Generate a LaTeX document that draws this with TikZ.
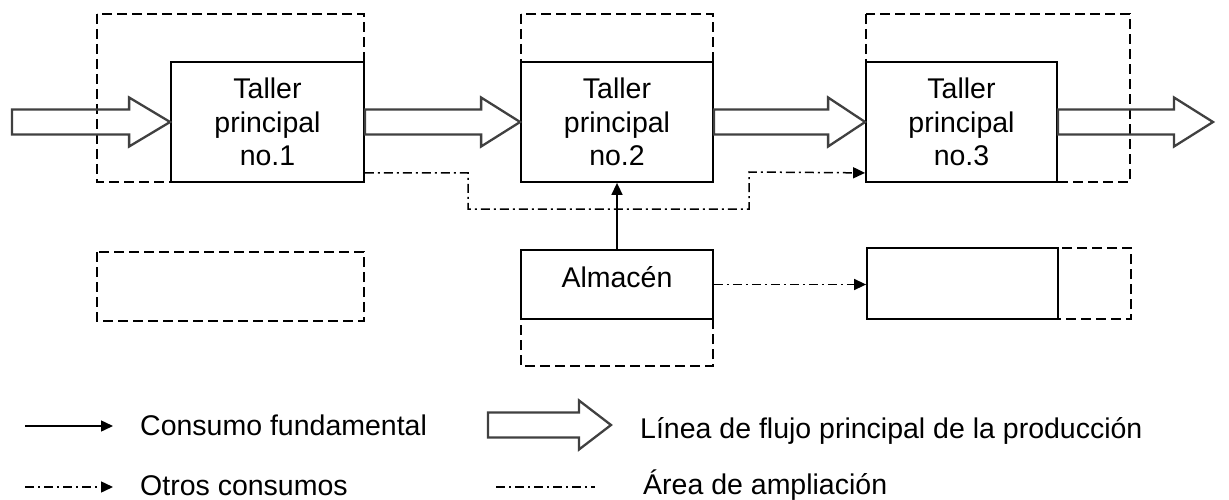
\documentclass[tikz,border=0pt]{standalone}
\usepackage{fontspec}
\setmainfont{Liberation Sans}
\usetikzlibrary{calc,arrows.meta}
\newcommand{\fatarrow}[3]{%
  \draw[fat] ($(#1)+(0,-12.5)$) -- ($(#2)+(-#3,-12.5)$) -- ($(#2)+(-#3,-24.5)$) -- (#2)
    -- ($(#2)+(-#3,24.5)$) -- ($(#2)+(-#3,12.5)$) -- ($(#1)+(0,12.5)$) -- cycle;}
\begin{document}
\begin{tikzpicture}[x=1pt,y=-1pt,
  box/.style={draw, line width=1.8pt, fill=white, inner sep=0pt, align=center,
    font=\fontsize{28.5}{33.5}\selectfont},
  area/.style={draw, line width=1.7pt, dash pattern=on 10pt off 5pt},
  other/.style={line width=1.5pt, dash pattern=on 9pt off 4pt on 2pt off 4pt},
  tip/.style={-{Triangle[length=12pt,width=11pt]}},
  fat/.style={line width=2.3pt, draw=black!75, line join=miter},
  lbl/.style={font=\fontsize{28.5}{33}\selectfont, inner sep=0pt}]
\useasboundingbox (0,0) rectangle (1229,500);
\fill[white] (0,0) rectangle (1229,500);
% expansion areas
\draw[area] (97,14) rectangle (364,182);
\draw[area] (521,14) rectangle (713,182);
\draw[area] (866,14) rectangle (1130,182);
\draw[area] (97,252) rectangle (364,321);
\draw[area] (521,250) rectangle (713,366);
\draw[area] (867,248) rectangle (1131,319);
% workshops
\node[box, minimum width=193pt, minimum height=120pt] (t1) at (267.5,122) {Taller\\principal\\no.1};
\node[box, minimum width=192pt, minimum height=120pt] (t2) at (617,122) {Taller\\principal\\no.2};
\node[box, minimum width=191pt, minimum height=120pt] (t3) at (961.5,122) {Taller\\principal\\no.3};
\node[box, minimum width=192pt, minimum height=69pt, text height=22pt, text depth=17pt] (alm) at (617,284.5) {Almacén};
\node[box, minimum width=191pt, minimum height=71pt] (emp) at (962.5,283.5) {};
% main flow
\coordinate (in) at (12,122);
\coordinate (out) at (1213,122);
\fatarrow{in}{t1.west}{41}
\fatarrow{t1.east}{t2.west}{39}
\fatarrow{t2.east}{t3.west}{37}
\fatarrow{t3.east}{out}{39}
% other consumption
\coordinate (b1) at (468,209);
\coordinate (b2) at (749,172);
\draw[other,tip] ([yshift=10pt]t1.south east) -| (b1) -| (b2) -- ([yshift=10pt]t3.south west);
\draw[tip, line width=1.5pt] (alm.north) -- (t2.south);
\draw[other,tip] (alm.east) -- (alm.east -| emp.west);
% legend
\coordinate (l1a) at (25,426); \coordinate (l1b) at (113,426);
\draw[tip, line width=1.5pt] (l1a) -- (l1b);
\node[lbl, anchor=base west] (c1) at (140,435) {Consumo fundamental};
\coordinate (l2a) at (25,487); \coordinate (l2b) at (113,487);
\draw[other,tip] (l2a) -- (l2b);
\node[lbl, anchor=base west] (c2) at (140,495) {Otros consumos};
\coordinate (l3a) at (488,425); \coordinate (l3b) at (611,425);
\fatarrow{l3a}{l3b}{32}
\node[lbl, anchor=base west] (c3) at (640,438) {Línea de flujo principal de la producción};
\coordinate (l4a) at (496,487); \coordinate (l4b) at (595,487);
\draw[other] (l4a) -- (l4b);
\node[lbl, anchor=base west] (c4) at (643,494) {Área de ampliación};
\end{tikzpicture}
\end{document}
